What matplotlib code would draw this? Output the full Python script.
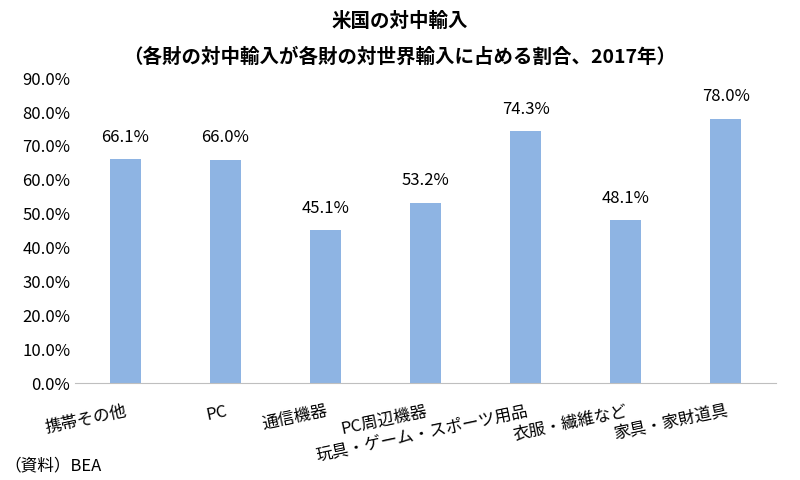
import matplotlib
matplotlib.use("Agg")
import matplotlib.pyplot as plt
from matplotlib.ticker import FuncFormatter

plt.rcParams["font.family"] = "Noto Sans CJK JP"

categories = ["携帯その他", "PC", "通信機器", "PC周辺機器", "玩具・ゲーム・スポーツ用品", "衣服・繊維など", "家具・家財道具"]
values = [66.1, 66.0, 45.1, 53.2, 74.3, 48.1, 78.0]

fig = plt.figure(figsize=(8, 4.8), dpi=100)
ax = fig.add_axes([0.094, 0.202, 0.876, 0.635])
x = range(len(categories))
ax.bar(x, values, width=0.31, color="#8EB4E3")
for xi, v in zip(x, values):
    ax.text(xi, v + 4, f"{v:.1f}%", ha="center", va="bottom", fontsize=12)
ax.set_ylim(0, 90)
ax.set_yticks(range(0, 91, 10))
ax.yaxis.set_major_formatter(FuncFormatter(lambda v, p: f"{v:.1f}%"))
ax.set_xlim(-0.5, len(categories) - 0.5)
ax.set_xticks(list(x))
ax.set_xticklabels(categories, rotation=12, ha="right", rotation_mode="anchor", fontsize=12)
ax.tick_params(axis="both", length=0, labelsize=12)
ax.tick_params(axis="x", pad=14)
for s in ["top", "right", "left"]:
    ax.spines[s].set_visible(False)
ax.spines["bottom"].set_color("#BFBFBF")
fig.text(0.5, 0.955, "米国の対中輸入", ha="center", va="center", fontsize=14, fontweight="bold")
fig.text(0.5, 0.88, "（各財の対中輸入が各財の対世界輸入に占める割合、2017年）", ha="center", va="center", fontsize=14, fontweight="bold")
fig.text(0.005, 0.03, "（資料）BEA", ha="left", va="center", fontsize=12)
fig.savefig("out.png")
